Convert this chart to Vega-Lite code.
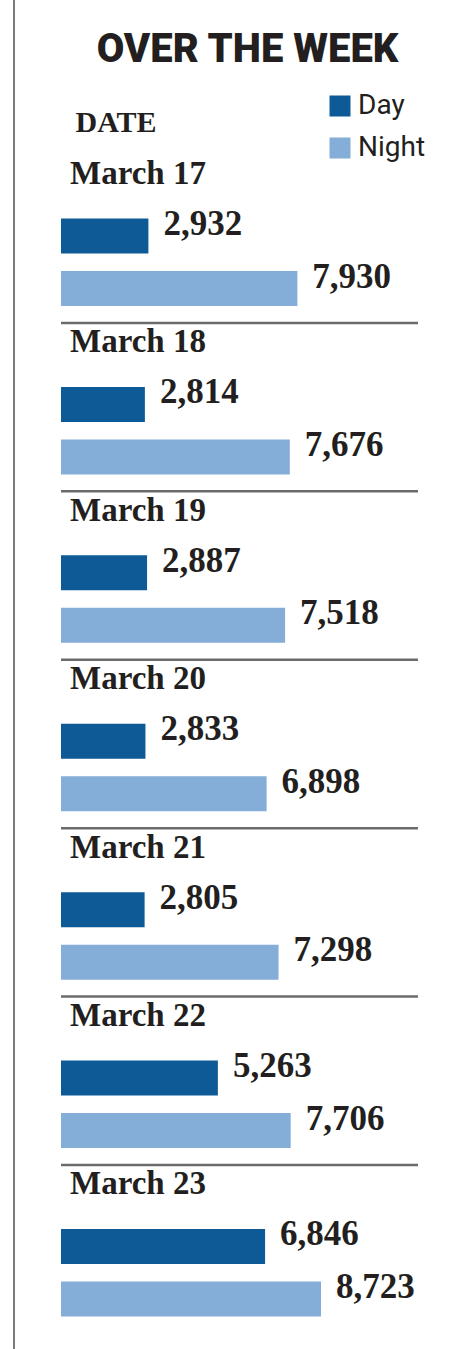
{
  "$schema": "https://vega.github.io/schema/vega-lite/v6.json",
  "width": 461,
  "height": 1349,
  "padding": 0,
  "autosize": {"type": "none"},
  "background": "white",
  "config": {"view": {"stroke": null}},
  "title": {
    "text": "OVER THE WEEK",
    "font": "Roboto",
    "fontWeight": 900,
    "fontSize": 40,
    "color": "#231f20",
    "anchor": "middle",
    "frame": "group",
    "dx": 17,
    "offset": -71
  },
  "datasets": {
    "week": [
      {"date": "March 17", "series": "Day", "value": 2932},
      {"date": "March 17", "series": "Night", "value": 7930},
      {"date": "March 18", "series": "Day", "value": 2814},
      {"date": "March 18", "series": "Night", "value": 7676},
      {"date": "March 19", "series": "Day", "value": 2887},
      {"date": "March 19", "series": "Night", "value": 7518},
      {"date": "March 20", "series": "Day", "value": 2833},
      {"date": "March 20", "series": "Night", "value": 6898},
      {"date": "March 21", "series": "Day", "value": 2805},
      {"date": "March 21", "series": "Night", "value": 7298},
      {"date": "March 22", "series": "Day", "value": 5263},
      {"date": "March 22", "series": "Night", "value": 7706},
      {"date": "March 23", "series": "Day", "value": 6846},
      {"date": "March 23", "series": "Night", "value": 8723}
    ]
  },
  "data": {"name": "week"},
  "layer": [
    {
      "transform": [{"filter": "datum.series === 'Day'"}],
      "mark": {"type": "bar", "height": 35, "yOffset": -2.7},
      "encoding": {
        "y": {
          "field": "date",
          "type": "ordinal",
          "sort": null,
          "scale": {"paddingInner": 0, "paddingOuter": 0.5053, "align": 0.908},
          "axis": {
            "title": "DATE",
            "labels": false,
            "ticks": false,
            "domain": false,
            "grid": false,
            "titleAngle": 0,
            "titleX": 75,
            "titleY": 131,
            "titleAlign": "left",
            "titleBaseline": "alphabetic",
            "titleFont": "Liberation Serif",
            "titleFontSize": 30,
            "titleFontWeight": "bold",
            "titleColor": "#231f20"
          }
        },
        "x": {
          "field": "value",
          "type": "quantitative",
          "scale": {"domain": [-2047, 13420], "nice": false, "zero": false},
          "axis": null
        },
        "color": {
          "field": "series",
          "type": "nominal",
          "scale": {"domain": ["Day", "Night"], "range": ["#0d5a96", "#84aed8"]},
          "legend": {
            "orient": "none",
            "legendX": 326,
            "legendY": 92,
            "title": null,
            "padding": 0,
            "symbolType": "square",
            "symbolSize": 441,
            "symbolStrokeWidth": 0,
            "symbolOpacity": 1,
            "labelFont": "Roboto",
            "labelFontSize": 28,
            "labelColor": "#231f20",
            "labelOffset": 4,
            "rowPadding": 14
          }
        }
      }
    },
    {
      "transform": [{"filter": "datum.series === 'Night'"}],
      "mark": {"type": "bar", "height": 35, "yOffset": 49.8},
      "encoding": {
        "y": {"field": "date", "type": "ordinal", "sort": null},
        "x": {"field": "value", "type": "quantitative"},
        "color": {"field": "series", "type": "nominal"}
      }
    },
    {
      "transform": [{"filter": "datum.series === 'Day'"}],
      "mark": {"type": "text", "align": "left", "baseline": "alphabetic", "dx": 15, "yOffset": -3.7, "font": "Liberation Serif", "fontWeight": "bold", "fontSize": 35, "color": "#231f20"},
      "encoding": {
        "y": {"field": "date", "type": "ordinal", "sort": null},
        "x": {"field": "value", "type": "quantitative"},
        "text": {"field": "value", "type": "quantitative", "format": ","}
      }
    },
    {
      "transform": [{"filter": "datum.series === 'Night'"}],
      "mark": {"type": "text", "align": "left", "baseline": "alphabetic", "dx": 15, "yOffset": 48.8, "font": "Liberation Serif", "fontWeight": "bold", "fontSize": 35, "color": "#231f20"},
      "encoding": {
        "y": {"field": "date", "type": "ordinal", "sort": null},
        "x": {"field": "value", "type": "quantitative"},
        "text": {"field": "value", "type": "quantitative", "format": ","}
      }
    },
    {
      "transform": [{"filter": "datum.series === 'Day'"}],
      "mark": {"type": "text", "align": "left", "baseline": "alphabetic", "dx": 9, "yOffset": -54.7, "font": "Liberation Serif", "fontWeight": "bold", "fontSize": 33, "color": "#231f20"},
      "encoding": {
        "y": {"field": "date", "type": "ordinal", "sort": null},
        "x": {"datum": 0},
        "text": {"field": "date", "type": "nominal"}
      }
    },
    {
      "transform": [{"filter": "datum.series === 'Day' && datum.date !== 'March 17'"}],
      "mark": {"type": "rule", "yOffset": -84.2, "strokeWidth": 2.5, "color": "#6b6b6b"},
      "encoding": {
        "y": {"field": "date", "type": "ordinal", "sort": null},
        "x": {"datum": 0},
        "x2": {"datum": 11977}
      }
    },
    {
      "transform": [{"filter": "datum.series === 'Day' && datum.date === 'March 17'"}],
      "mark": {"type": "rule", "strokeWidth": 2, "color": "#7a7a7a"},
      "encoding": {
        "x": {"datum": -1577}
      }
    }
  ]
}
